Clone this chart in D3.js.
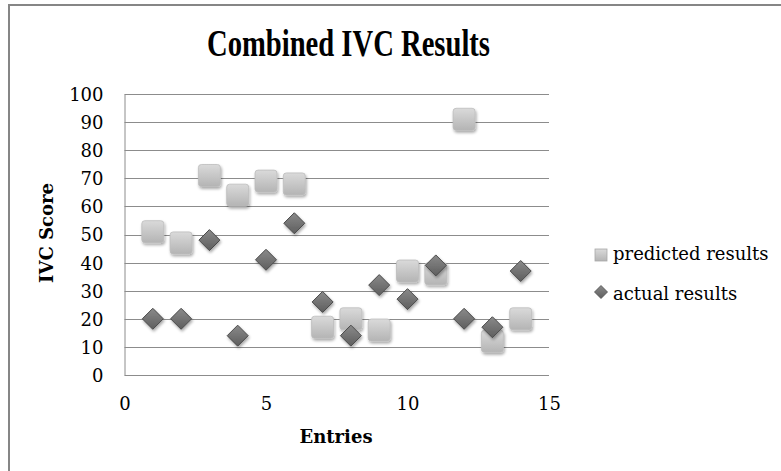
<!DOCTYPE html>
<html><head><meta charset="utf-8">
<script src="https://cdn.jsdelivr.net/npm/d3@7"></script>
<style>
html,body{margin:0;padding:0;background:#fff;}
svg text{font-family:"DejaVu Serif","Liberation Serif",serif;fill:#000;}
</style></head>
<body><svg id="chart" width="781" height="471"></svg>
<script>
const entries   = [1,2,3,4,5,6,7,8,9,10,11,12,13,14];
const predicted = [51,47,71,64,69,68,17,20,16,37,36,91,12,20];
const actual    = [20,20,48,14,41,54,26,14,32,27,39,20,17,37];
const yTicks = [0,10,20,30,40,50,60,70,80,90,100];
const xTicks = [0,5,10,15];
const seriesNames = ["predicted results","actual results"];

const svg = d3.select("#chart");
const x = d3.scaleLinear().domain([0,15]).range([124.5,549]);
const y = d3.scaleLinear().domain([0,100]).range([375,94]);
const FF = '"DejaVu Serif","Liberation Serif",serif';

const defs = svg.append("defs");
const gS = defs.append("linearGradient").attr("id","gSq").attr("x1",0).attr("y1",0).attr("x2",0).attr("y2",1);
gS.append("stop").attr("offset","0%").attr("stop-color","#dadada");
gS.append("stop").attr("offset","100%").attr("stop-color","#b4b4b4");
const gD = defs.append("linearGradient").attr("id","gDi").attr("x1",0).attr("y1",0).attr("x2",0).attr("y2",1);
gD.append("stop").attr("offset","0%").attr("stop-color","#8a8a8a");
gD.append("stop").attr("offset","100%").attr("stop-color","#5e5e5e");
const f = defs.append("filter").attr("id","sh").attr("x","-50%").attr("y","-50%").attr("width","200%").attr("height","200%");
f.append("feGaussianBlur").attr("in","SourceAlpha").attr("stdDeviation",1.5).attr("result","b");
f.append("feOffset").attr("in","b").attr("dx",1).attr("dy",1.5).attr("result","o");
f.append("feComponentTransfer").attr("in","o").attr("result","o2").append("feFuncA").attr("type","linear").attr("slope",0.35);
const m = f.append("feMerge"); m.append("feMergeNode").attr("in","o2"); m.append("feMergeNode").attr("in","SourceGraphic");

// border
svg.append("rect").attr("x",9).attr("y",5).attr("width",800).attr("height",500)
  .attr("fill","none").attr("stroke","#868686").attr("stroke-width",2);

// title
svg.append("text").attr("x",348.5).attr("y",56).attr("text-anchor","middle")
  .style("font-family",'"Liberation Serif",serif')
  .style("font-size","38px").style("font-weight","bold")
  .attr("textLength",283).attr("lengthAdjust","spacingAndGlyphs")
  .text("Combined IVC Results");

// grid
svg.append("g").selectAll("line").data(yTicks).join("line")
  .attr("x1",x(0)).attr("x2",x(15)).attr("y1",d=>Math.round(y(d))+0.5).attr("y2",d=>Math.round(y(d))+0.5)
  .attr("stroke","#8c8c8c").attr("stroke-width",1);

// axes
const yAxis = svg.append("g").attr("transform",`translate(${x(0)},0)`)
  .call(d3.axisLeft(y).tickValues(yTicks).tickSize(0).tickPadding(21));
yAxis.attr("font-family",null).attr("font-size",null);
yAxis.select(".domain").attr("stroke","#8c8c8c");
yAxis.selectAll("text").style("font-family",FF).style("font-size","18px").attr("dy","0.36em");

const xAxis = svg.append("g").attr("transform",`translate(0,${y(0)})`)
  .call(d3.axisBottom(x).tickValues(xTicks).tickSize(0).tickPadding(22));
xAxis.attr("font-family",null).attr("font-size",null);
xAxis.select(".domain").remove();
xAxis.selectAll("text").style("font-family",FF).style("font-size","18px");

svg.append("text").attr("x",336).attr("y",443).attr("text-anchor","middle")
  .style("font-size","18px").style("font-weight","bold").text("Entries");
svg.append("text").attr("transform",`translate(53,233) rotate(-90)`).attr("text-anchor","middle")
  .style("font-size","18px").style("font-weight","bold").text("IVC Score");

// series
const sq = 22;
svg.append("g").selectAll("rect").data(entries).join("rect")
  .attr("x",(d)=>x(d)-sq/2).attr("y",(d,i)=>y(predicted[i])-sq/2)
  .attr("width",sq).attr("height",sq).attr("rx",3)
  .attr("fill","url(#gSq)").attr("stroke","#bdbdbd").attr("stroke-width",0.8).attr("filter","url(#sh)");

const dm = 10.5;
const diamond = (cx,cy,r)=>`M${cx},${cy-r}L${cx+r},${cy}L${cx},${cy+r}L${cx-r},${cy}Z`;
svg.append("g").selectAll("path").data(entries).join("path")
  .attr("d",(d,i)=>diamond(x(d),y(actual[i]),dm))
  .attr("fill","url(#gDi)").attr("stroke","#4a4a4a").attr("stroke-width",1).attr("filter","url(#sh)");

// legend
const lg = svg.append("g");
lg.append("rect").attr("x",595).attr("y",249).attr("width",12).attr("height",12)
  .attr("fill","url(#gSq)").attr("stroke","#a8a8a8").attr("stroke-width",0.8);
lg.append("path").attr("d",diamond(601,292,6.5)).attr("fill","url(#gDi)").attr("stroke","#4a4a4a").attr("stroke-width",0.8);
lg.selectAll("text").data(seriesNames).join("text")
  .attr("x",613).attr("y",(d,i)=>260+i*40).style("font-size","18px").text(d=>d);
</script></body></html>
